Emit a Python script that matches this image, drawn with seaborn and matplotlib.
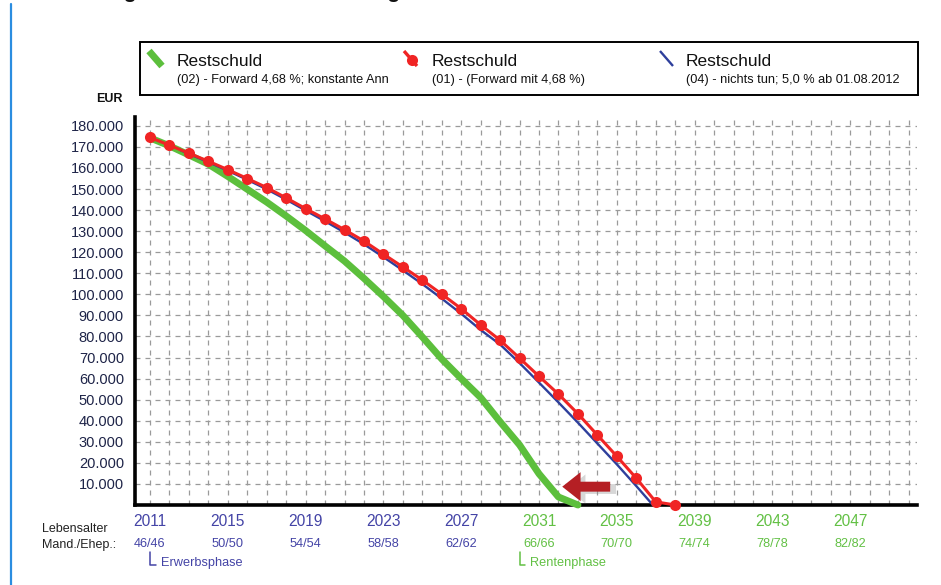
import matplotlib
matplotlib.use("Agg")
import matplotlib.pyplot as plt
import seaborn as sns
import pandas as pd

# ---- data ---------------------------------------------------------------
years_red = list(range(2011, 2039))
rest_red = [174500, 170800, 167000, 163200, 159200, 155000, 150700, 145800,
            140700, 135800, 130700, 125300, 119100, 113000, 106800, 100100,
            93200, 85500, 78200, 69700, 61100, 52600, 43300, 33200, 23100,
            12700, 1500, 0]

years_green = list(range(2011, 2034))
rest_green = [174300, 170500, 166200, 161800, 156000, 149900, 143800, 137200,
              130300, 123000, 115800, 107600, 99000, 90000, 79800, 69300,
              60000, 51000, 39500, 28500, 14800, 3800, 0]

years_blue = [2012.58] + list(range(2013, 2037)) + [2036.85]
rest_blue = [168400, 166700, 162800, 158700, 154400, 149900, 145000, 139800,
             134700, 129400, 123800, 117700, 111400, 104900, 98000, 90800,
             83100, 76200, 67400, 58100, 48700, 39100, 29200, 19300, 9000, 0]

year_labels = [2011, 2015, 2019, 2023, 2027, 2031, 2035, 2039, 2043, 2047]
age_labels = ["46/46", "50/50", "54/54", "58/58", "62/62",
              "66/66", "70/70", "74/74", "78/78", "82/82"]
phase_names = ["Erwerbsphase", "Rentenphase"]
phase_starts = [2011, 2030]

legend_titles = ["Restschuld", "Restschuld", "Restschuld"]
legend_notes = ["(02) - Forward 4,68 %; konstante Ann",
                "(01) - (Forward mit 4,68 %)",
                "(04) - nichts tun; 5,0 % ab 01.08.2012"]

# ---- style --------------------------------------------------------------
sns.set_theme(style="white")
plt.rcParams["font.family"] = ["Liberation Sans", "DejaVu Sans"]

GREEN = "#5cbf3c"
RED = "#f02424"
BLUE = "#2e3f9c"
LBL_BLUE = "#4444a6"
LBL_GREEN = "#62c044"
TICK_COL = "#1e2448"

W, H = 941, 585
fig = plt.figure(figsize=(W / 100, H / 100), dpi=100)

def px_rect(x0, y0, x1, y1):
    return [x0 / W, 1 - y1 / H, (x1 - x0) / W, (y1 - y0) / H]

ax = fig.add_axes(px_rect(135, 117, 917, 505))

df_g = pd.DataFrame({"Jahr": years_green, "Restschuld": rest_green})
df_b = pd.DataFrame({"Jahr": years_blue, "Restschuld": rest_blue})
df_r = pd.DataFrame({"Jahr": years_red, "Restschuld": rest_red})

sns.lineplot(data=df_g, x="Jahr", y="Restschuld", ax=ax, color=GREEN,
             lw=5, zorder=3, clip_on=False)
sns.lineplot(data=df_b, x="Jahr", y="Restschuld", ax=ax, color=BLUE,
             lw=1.7, zorder=4, clip_on=False)
sns.lineplot(data=df_r, x="Jahr", y="Restschuld", ax=ax, color=RED,
             lw=2.2, marker="o", markersize=8, markeredgewidth=0,
             zorder=5, clip_on=False)

ax.set_xlim(2010.23, 2050.43)
ax.set_ylim(0, 184200)
ax.set_xlabel("")
ax.set_ylabel("")

# grid: every year and every 10.000 EUR
ax.set_xticks(year_labels)
ax.set_xticks(range(2011, 2051), minor=True)
ax.set_yticks(range(10000, 190000, 10000))
ax.set_yticklabels([f"{v // 1000}.000" for v in range(10000, 190000, 10000)],
                   fontsize=10.5, color=TICK_COL)
ax.grid(True, which="both", axis="x", ls=(0, (4, 4)), color="#9a9a9a", lw=0.9)
ax.grid(True, which="major", axis="y", ls=(0, (4, 4)), color="#9a9a9a", lw=0.9)
ax.set_axisbelow(True)

for s in ("top", "right"):
    ax.spines[s].set_visible(False)
for s in ("left", "bottom"):
    ax.spines[s].set_color("black")
    ax.spines[s].set_linewidth(2.6)

ax.tick_params(axis="y", length=0, pad=8)
ax.tick_params(axis="x", which="major", length=3, direction="in",
               color="#666666", pad=6.5)
ax.tick_params(axis="x", which="minor", length=3, direction="in",
               color="#666666")

ax.set_xticklabels([str(y) for y in year_labels], fontsize=11.2)
for lbl, yr in zip(ax.get_xticklabels(), year_labels):
    lbl.set_color(LBL_GREEN if yr >= phase_starts[1] else LBL_BLUE)

# age row under the years
xtr = ax.get_xaxis_transform()
for yr, age in zip(year_labels, age_labels):
    ax.text(yr, -0.101, age, transform=xtr, ha="center", va="center",
            fontsize=9.2, color=LBL_GREEN if yr >= phase_starts[1] else LBL_BLUE,
            clip_on=False)

# phase markers
for name, start in zip(phase_names, phase_starts):
    col = LBL_GREEN if start >= phase_starts[1] else LBL_BLUE
    ax.plot([start, start, start + 0.3], [-0.12, -0.155, -0.155],
            transform=xtr, color=col, lw=1.1, clip_on=False)
    ax.text(start + 0.55, -0.15, name, transform=xtr, ha="left", va="center",
            fontsize=9.2, color=col, clip_on=False)

# arrow pointing at the end of the green curve
arrow_style = "simple,head_length=1.2,head_width=1.9,tail_width=0.65"
ax.annotate("", xy=(2032.3, 7600), xytext=(2035.1, 7600),
            arrowprops=dict(arrowstyle=arrow_style, color="#8f8f8f",
                            alpha=0.35, lw=0, mutation_scale=11), zorder=5)
ax.annotate("", xy=(2032.05, 8700), xytext=(2034.8, 8700),
            arrowprops=dict(arrowstyle=arrow_style, color="#b51f24",
                            lw=0, mutation_scale=11), zorder=6)

# ---- overlay in pixel space: legend box, labels, border ----------------
ov = fig.add_axes([0, 0, 1, 1], zorder=10)
ov.set_xlim(0, W)
ov.set_ylim(H, 0)
ov.axis("off")
ov.patch.set_visible(False)

ov.plot([11, 11], [4, H], color="#2b8de0", lw=1.6)
ov.text(33, -2, "Abbildung 4: Restschuldentwicklung", fontsize=15,
        fontweight="bold", color="#111111", ha="left", va="baseline")

ov.text(123, 99, "EUR", fontsize=9, fontweight="bold", color="#111111",
        ha="right", va="center")
ov.text(42, 529, "Lebensalter", fontsize=9, color="#222222", va="center")
ov.text(42, 545, "Mand./Ehep.:", fontsize=9, color="#222222", va="center")

ov.add_patch(plt.Rectangle((140, 42), 778, 53, fill=False, ec="black", lw=1.4))
icon_x = [149, 404, 660]
text_x = [177, 432, 686]
colors = [GREEN, RED, BLUE]
widths = [5, 2.4, 1.7]
for i in range(3):
    x0 = icon_x[i]
    ov.plot([x0, x0 + 13], [51, 66], color=colors[i], lw=widths[i],
            solid_capstyle="butt")
    if i == 1:
        ov.plot([x0 + 8], [60], marker="o", ms=8, mew=0, color=RED)
    ov.text(text_x[i], 62, legend_titles[i], fontsize=12.5, color="#111111",
            va="center")
    ov.text(text_x[i], 80, legend_notes[i], fontsize=9.2, color="#111111",
            va="center")

fig.savefig("out.png", dpi=100)
